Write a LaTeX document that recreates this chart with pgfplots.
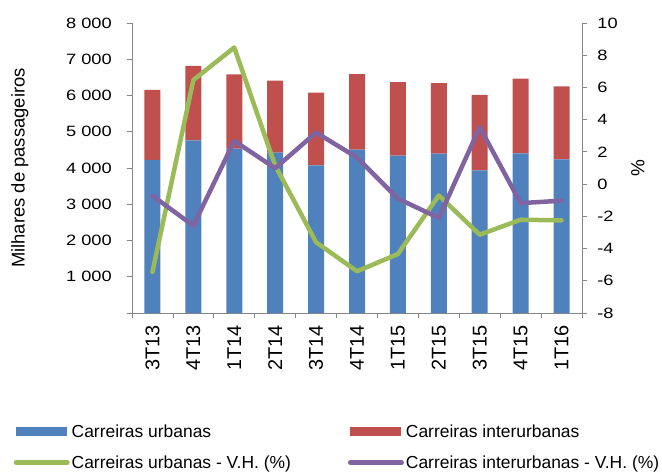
\documentclass[border=0pt]{standalone}
\usepackage{pgfplots}
\pgfplotsset{compat=1.18}
\usepackage{fontspec}
\setmainfont{Liberation Sans}
\definecolor{cblue}{HTML}{4F81BD}
\definecolor{cred}{HTML}{C0504D}
\definecolor{cgreen}{HTML}{9BBB59}
\definecolor{cpurple}{HTML}{8064A2}
\definecolor{axgray}{HTML}{868686}
\pgfplotsset{
  mylineleg/.style={legend image code/.code={\draw[##1, line width=5bp] (0bp,0bp) -- (51bp,0bp);}},
  myarealeg/.style={legend image code/.code={\fill[##1] (0bp,-4.3bp) rectangle (51bp,4.3bp);}},
  common/.style={
    scale only axis, width=450bp, height=290bp,
    xmin=-0.5, xmax=10.5,
    tick align=outside,
    major tick length=5bp,
    tick style={axgray, line width=0.8bp},
    axis line style={axgray, line width=0.8bp},
    yticklabel style={font=\fontsize{15}{17}\selectfont, text=black, xscale=1.22},
    /pgf/number format/assume math mode=true,
  }
}
\begin{document}
\begin{tikzpicture}
\begin{axis}[common, name=ax1,
  ybar stacked, bar width=16bp,
  ymin=0, ymax=8000,
  axis y line*=left, axis x line*=bottom,
  ytick={1000,2000,...,8000},
  extra y ticks={0}, extra y tick labels={},
  scaled y ticks=false,
  /pgf/number format/1000 sep={\ },
  /pgf/number format/fixed,
  yticklabel style={xshift=-9bp},
  xtick={-0.5,0.5,...,10.5},
  x tick label as interval,
  xticklabels={3T13,4T13,1T14,2T14,3T14,4T14,1T15,2T15,3T15,4T15,1T16},
  xticklabel style={rotate=90, anchor=east, font=\fontsize{20}{22}\selectfont, text=black, xshift=-4bp},
  ylabel={Milhares de passageiros},
  ylabel style={font=\fontsize{18.5}{20}\selectfont, at={(axis description cs:-0.249,0.5)}, anchor=center},
]
\addplot[fill=cblue, draw=none] coordinates {
(0,4221) (1,4764) (2,4533) (3,4423) (4,4074) (5,4506) (6,4340) (7,4395) (8,3936) (9,4405) (10,4239)};
\addplot[fill=cred, draw=none] coordinates {
(0,1931) (1,2050) (2,2051) (3,1986) (4,2004) (5,2087) (6,2032) (7,1950) (8,2078) (9,2059) (10,2014)};
\end{axis}
\begin{axis}[common,
  ymin=-8, ymax=10,
  axis y line*=right, axis x line=none,
  ytick={-8,-6,...,10},
  yticklabel style={xshift=5bp},
  ylabel={\%},
  ylabel style={font=\fontsize{19}{21}\selectfont, at={(axis description cs:1.124,0.5)}, anchor=center},
  legend columns=2,
  legend style={draw=none, fill=none, at={(-0.27,-0.37)}, anchor=north west,
    font=\fontsize{17.5}{19}\selectfont,
    /tikz/every even column/.append style={column sep=55bp},
    row sep=13bp},
  legend cell align=left,
]
\addlegendimage{myarealeg, fill=cblue, draw=none}
\addlegendentry{Carreiras urbanas}
\addlegendimage{myarealeg, fill=cred, draw=none}
\addlegendentry{Carreiras interurbanas}
\addplot[cgreen, line width=4.5bp, line join=round, line cap=round, mylineleg] coordinates {
(0,-5.45) (1,6.46) (2,8.48) (3,1.15) (4,-3.61) (5,-5.41) (6,-4.34) (7,-0.7) (8,-3.14) (9,-2.21) (10,-2.25)};
\addlegendentry{Carreiras urbanas - V.H. (\%)}
\addplot[cpurple, line width=4.5bp, line join=round, line cap=round, mylineleg] coordinates {
(0,-0.72) (1,-2.58) (2,2.68) (3,0.99) (4,3.2) (5,1.65) (6,-0.9) (7,-2.1) (8,3.53) (9,-1.18) (10,-1.03)};
\addlegendentry{Carreiras interurbanas - V.H. (\%)}
\end{axis}
\pgfresetboundingbox
\path ([shift={(-132bp,-162bp)}]ax1.south west) rectangle ++(662bp,475bp);
\end{tikzpicture}
\end{document}
